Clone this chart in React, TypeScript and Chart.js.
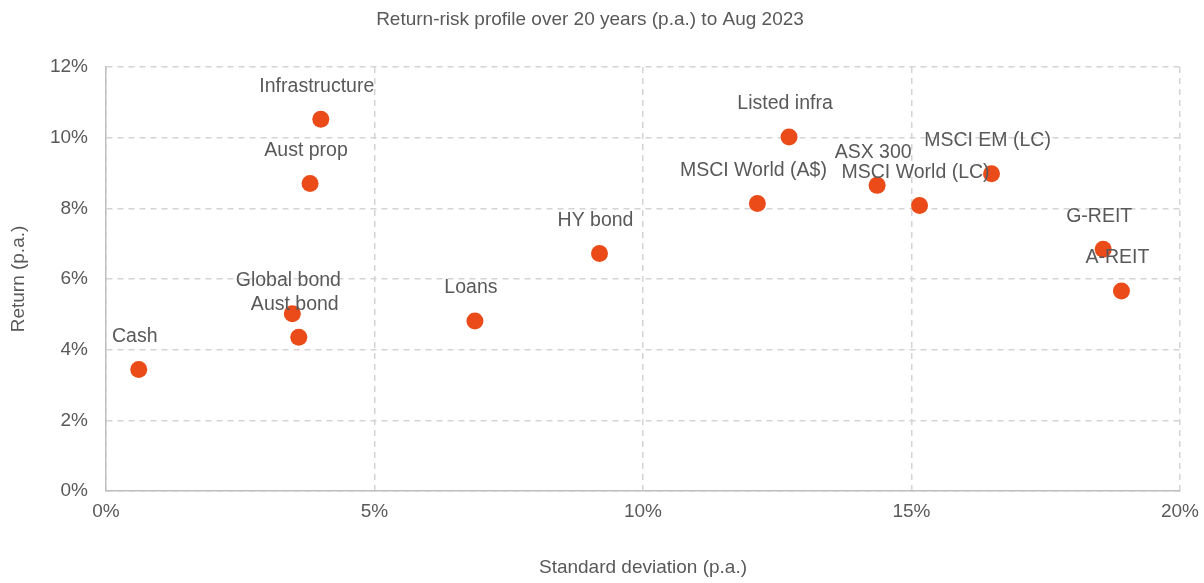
import React, { useEffect, useRef } from "react";
import { Chart, registerables } from "chart.js";

Chart.register(...registerables);

const assetNames = [
  "Cash",
  "Global bond",
  "Aust bond",
  "Infrastructure",
  "Aust prop",
  "Loans",
  "HY bond",
  "MSCI World (A$)",
  "Listed infra",
  "ASX 300",
  "MSCI World (LC)",
  "MSCI EM (LC)",
  "G-REIT",
  "A-REIT",
];
const stdDev = [0.61, 3.47, 3.59, 4.0, 3.8, 6.87, 9.19, 12.13, 12.72, 14.36, 15.15, 16.49, 18.57, 18.91];
const returns = [3.44, 5.02, 4.35, 10.52, 8.7, 4.81, 6.72, 8.14, 10.02, 8.65, 8.08, 8.98, 6.84, 5.66];

const chartTitle = "Return-risk profile over 20 years (p.a.) to Aug 2023";
const xTitle = "Standard deviation (p.a.)";
const yTitle = "Return (p.a.)";

const FONT = "'Liberation Sans', Arial, sans-serif";
const TEXT = "#595959";
const POINT = "#EB4B18";

const labelPlugin = {
  id: "pointLabels",
  afterDatasetsDraw(chart: any) {
    const meta = chart.getDatasetMeta(0);
    const ctx = chart.ctx;
    ctx.save();
    ctx.font = `19.5px ${FONT}`;
    ctx.fillStyle = TEXT;
    ctx.textAlign = "center";
    ctx.textBaseline = "middle";
    meta.data.forEach((pt: any, i: number) => {
      ctx.fillText(assetNames[i], pt.x - 4, pt.y - 33);
    });
    ctx.restore();
  },
};

export default function App() {
  const ref = useRef<HTMLCanvasElement>(null);
  useEffect(() => {
    document.body.style.margin = "0";
    const data = stdDev.map((x, i) => ({ x, y: returns[i] }));
    const chart = new Chart(ref.current as HTMLCanvasElement, {
      type: "scatter",
      data: {
        datasets: [
          {
            data,
            backgroundColor: POINT,
            borderColor: POINT,
            pointRadius: 8.5,
            pointHoverRadius: 8.5,
            borderWidth: 0,
          },
        ],
      },
      options: {
        animation: false,
        responsive: false,
        layout: { padding: { left: 0, right: 24, top: 0, bottom: 0 } },
        plugins: {
          legend: { display: false },
          tooltip: { enabled: false },
          title: {
            display: true,
            text: chartTitle,
            color: TEXT,
            font: { family: FONT, size: 19, weight: "normal" },
            padding: { top: 8, bottom: 36.2 },
          },
        },
        scales: {
          x: {
            type: "linear",
            min: 0,
            max: 20,
            afterFit: (s: any) => {
              s.height = 92;
              s.paddingLeft = 0;
              s.paddingRight = 0;
            },
            ticks: {
              stepSize: 5,
              color: TEXT,
              padding: 9,
              maxRotation: 0,
              font: { family: FONT, size: 19 },
              callback: (v: any) => `${v}%`,
            },
            grid: { color: "#D4D4D4", lineWidth: 1.5, drawTicks: false },
            border: { display: true, color: "#BFBFBF", width: 1.5, dash: [6, 5] },
            title: {
              display: true,
              text: xTitle,
              color: TEXT,
              font: { family: FONT, size: 19 },
              padding: { top: 0, bottom: 4 },
            },
          },
          y: {
            type: "linear",
            min: 0,
            max: 12,
            afterFit: (s: any) => {
              s.width = 106;
            },
            ticks: {
              stepSize: 2,
              color: TEXT,
              padding: 18,
              font: { family: FONT, size: 19 },
              callback: (v: any) => `${v}%`,
            },
            grid: { color: "#D4D4D4", lineWidth: 1.5, drawTicks: false },
            border: { display: true, color: "#BFBFBF", width: 1.5, dash: [6, 5] },
            title: {
              display: true,
              text: yTitle,
              color: TEXT,
              font: { family: FONT, size: 19 },
              padding: { top: 7, bottom: 0 },
            },
          },
        },
      } as any,
      plugins: [labelPlugin],
    });
    return () => chart.destroy();
  }, []);
  return (
    <div style={{ position: "absolute", left: 0, top: 0, width: 1204, height: 583, background: "#fff" }}>
      <canvas ref={ref} width={1204} height={583} />
    </div>
  );
}
